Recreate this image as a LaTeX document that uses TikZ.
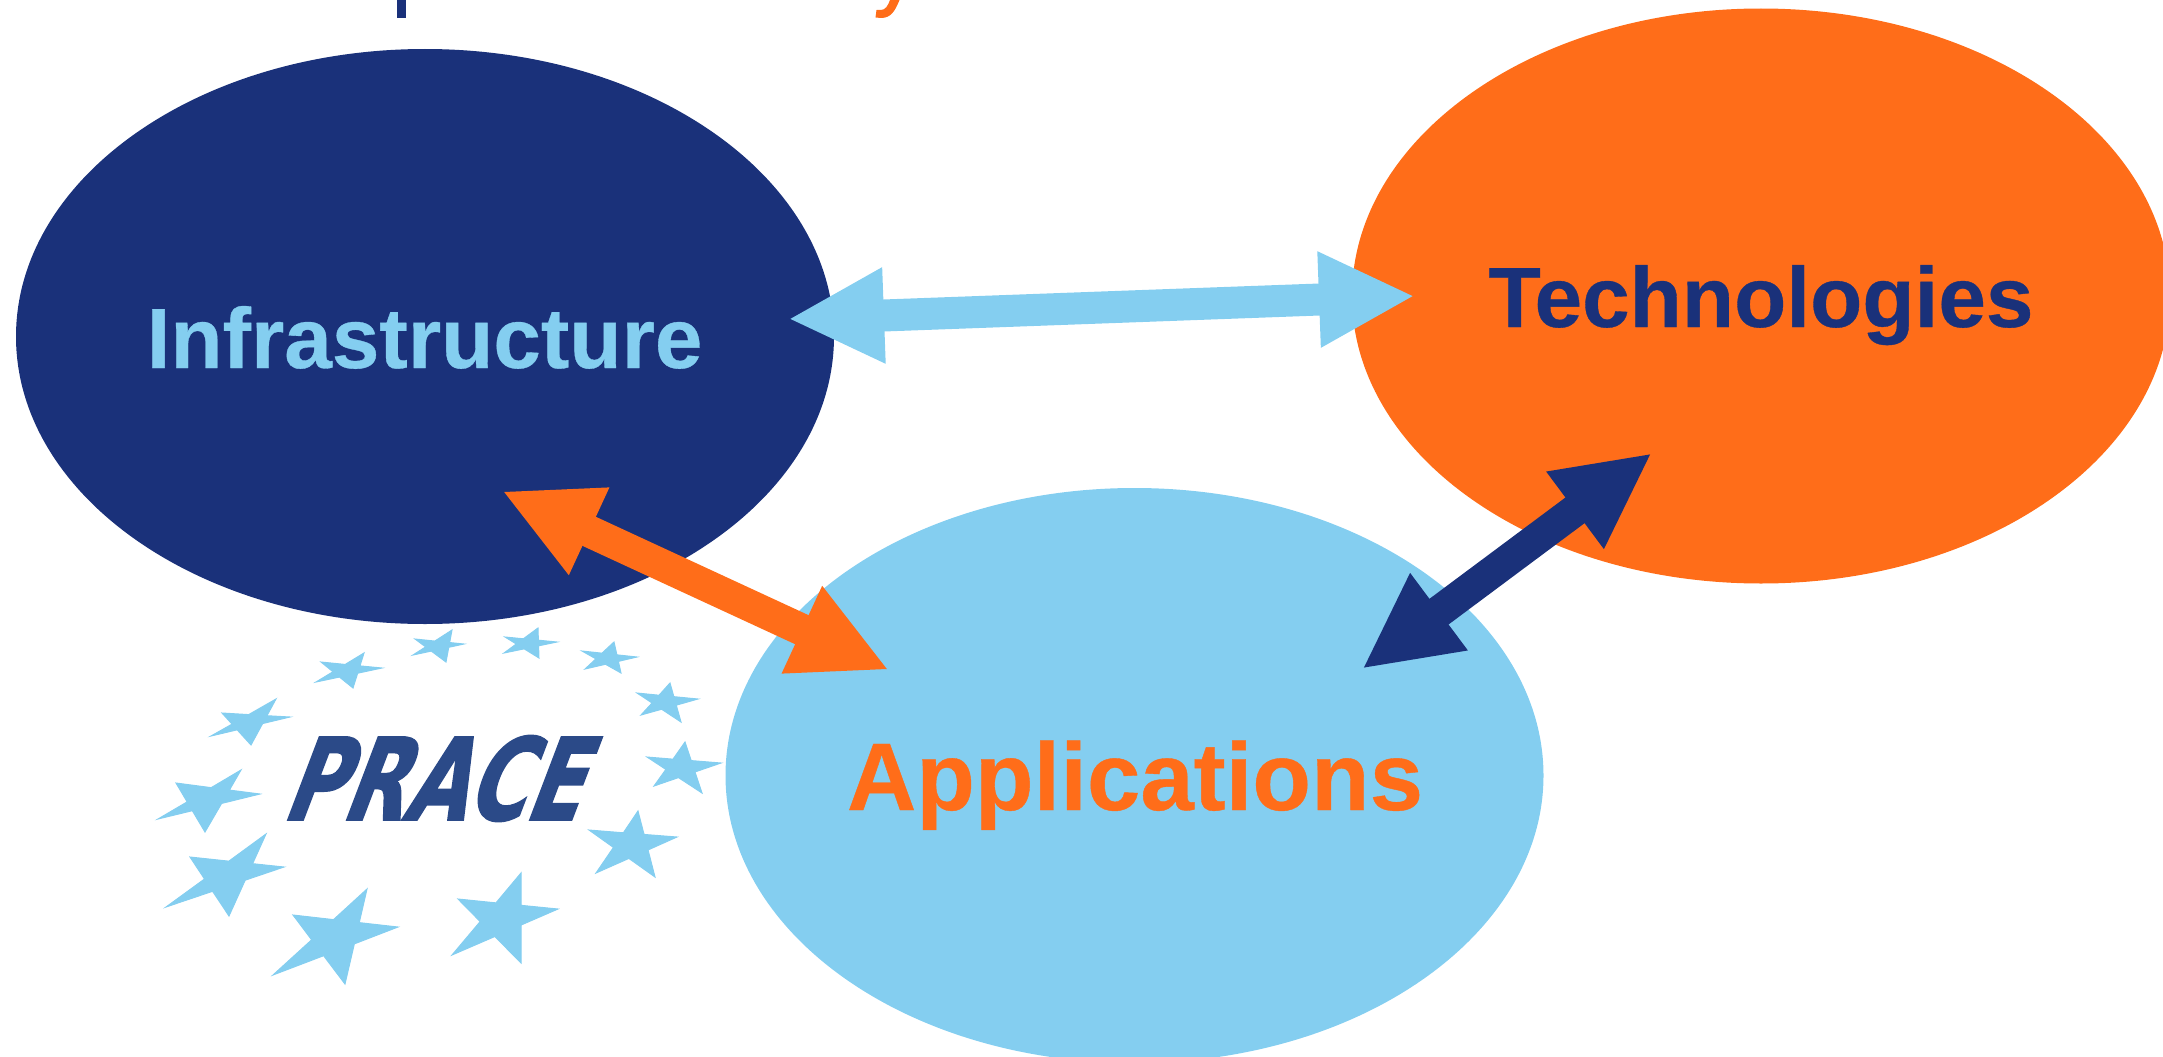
\documentclass[tikz,border=0pt]{standalone}
\usepackage{fontspec}
\setmainfont[BoldFeatures={FakeBold=0.4}]{Liberation Sans}
\newfontfamily\pracefont[UprightFont={* Bold},FakeSlant=0.38,FakeStretch=0.705,FakeBold=1.5]{DejaVu Sans}
\usetikzlibrary{shapes.geometric, arrows.meta}
\definecolor{pracenavy}{HTML}{1A317A}
\definecolor{pracesky}{HTML}{84CEF0}
\definecolor{praceorange}{HTML}{FF6D19}
\definecolor{logoblue}{HTML}{2B4A88}
\tikzstyle{bubble} = [ellipse, minimum width=818pt, minimum height=575pt, inner sep=0pt]
\tikzstyle{title} = [anchor=base, inner sep=0pt, font=\bfseries\fontsize{85.5}{90}\selectfont]
\tikzstyle{arrow} = [line width=32pt,<->,>={Triangle[length=96pt,width=89pt]}]
\tikzstyle{euro} = [fill=pracesky, draw=pracesky, line width=1pt]
\newcommand{\eurostar}[5]{
\coordinate (t1) at #1;
\coordinate (t2) at #2;
\coordinate (t3) at #3;
\coordinate (t4) at #4;
\coordinate (t5) at #5;
\filldraw [euro] (t1) -- (intersection of t1--t3 and t2--t5) -- (t2) -- (intersection of t2--t4 and t1--t3) -- (t3) -- (intersection of t3--t5 and t2--t4) -- (t4) -- (intersection of t4--t1 and t3--t5) -- (t5) -- (intersection of t5--t2 and t4--t1) -- cycle;
}
\begin{document}
\begin{tikzpicture}[x=1pt,y=-1pt]
\clip (0,0) rectangle (2163,1057);

\fill [pracenavy] (397,0) rectangle (406,18);
\fill [praceorange] (899.5,0) .. controls (895,11) and (891,18) .. (881,18) -- (875.5,17.5) -- (876.5,10) -- (881,10) .. controls (885,10) and (888,6) .. (890,0) -- cycle;

\node (infra) [bubble, fill=pracenavy] at (425,336.5) {};
\node (techn) [bubble, fill=praceorange] at (1761,296) {};
\node (appl) [bubble, fill=pracesky] at (1134.5,775.5) {};

\node (infralabel) [title, text=pracesky] at (424.5,368) {Infrastructure};
\node (technlabel) [title, text=pracenavy] at (1761,327) {Technologies};
\node (appllabel) [title, text=praceorange, font=\bfseries\fontsize{96}{100}\selectfont] at (1135,810) {Applications};

\coordinate (a1) at (788,319);
\coordinate (a2) at (1415,296);
\coordinate (b1) at (502,491);
\coordinate (b2) at (889,670);
\coordinate (c1) at (1652,453);
\coordinate (c2) at (1362,669);
\draw [arrow, pracesky] (a1) -- (a2);
\draw [arrow, praceorange] (b1) -- (b2);
\draw [arrow, pracenavy] (c1) -- (c2);

\node (logo) [text=logoblue, font=\pracefont\fontsize{114}{120}\selectfont, inner sep=0pt, anchor=base] at (429,820) {PRACE};

\eurostar{(452,630)}{(464,644)}{(446,662)}{(413,655)}{(415,639)}
\eurostar{(538,628)}{(557,642)}{(539,658)}{(504,653)}{(505,637)}
\eurostar{(614,642)}{(637,657)}{(621,673)}{(585,669)}{(582,651)}
\eurostar{(670,683)}{(698,699)}{(681,722)}{(641,715)}{(637,693)}
\eurostar{(685,742)}{(721,763)}{(702,793)}{(654,786)}{(647,757)}
\eurostar{(638,811)}{(677,837)}{(655,877)}{(596,873)}{(589,830)}
\eurostar{(521,873)}{(558,909)}{(521,963)}{(452,955)}{(458,899)}
\eurostar{(367,889)}{(398,927)}{(345,984)}{(273,975)}{(293,915)}
\eurostar{(266,834)}{(284,867)}{(229,916)}{(166,907)}{(190,857)}
\eurostar{(241,770)}{(260,794)}{(205,832)}{(158,819)}{(176,783)}
\eurostar{(276,699)}{(290,717)}{(251,745)}{(211,736)}{(222,713)}
\eurostar{(364,653)}{(382,668)}{(353,688)}{(316,682)}{(321,662)}

\end{tikzpicture}
\end{document}
